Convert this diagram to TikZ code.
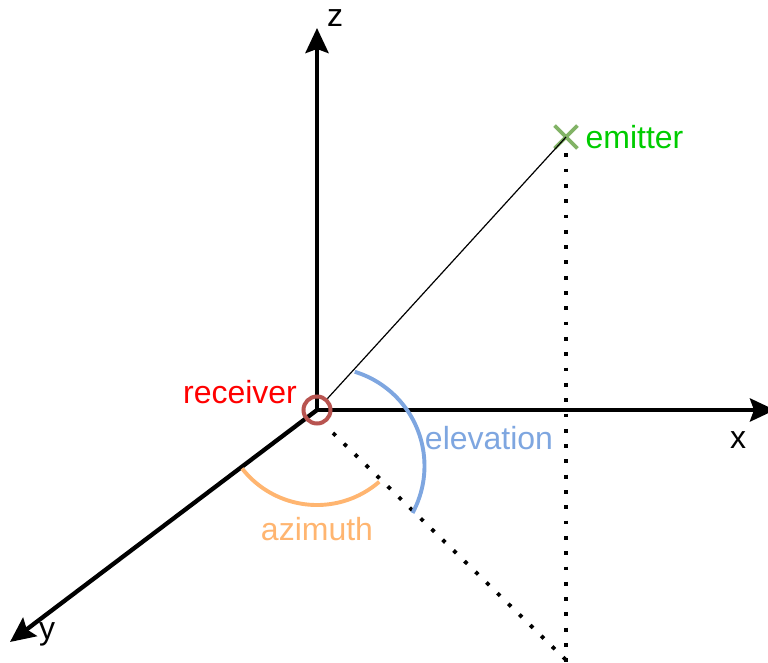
\documentclass[tikz,border=0pt]{standalone}
\usepackage{fontspec}
\setmainfont{Liberation Sans}
\usepackage{tikz}
\usetikzlibrary{arrows.meta,positioning,shapes.misc}

\definecolor{recvred}{HTML}{B85450}
\definecolor{emitgreen}{HTML}{82B366}
\definecolor{labelgreen}{HTML}{00CC00}
\definecolor{elevblue}{HTML}{7EA6E0}
\definecolor{azimorange}{HTML}{FFB570}

\begin{document}
\begin{tikzpicture}[
  x=1pt, y=1pt,
  axis/.style={line width=4.3pt, -{Stealth[length=25pt, width=23pt, inset=4pt]}},
  lbl/.style={font=\fontsize{32}{38}\selectfont, inner sep=0pt},
  dots/.style={line width=3.8pt, dash pattern=on 3.8pt off 11.5pt},
  anglearc/.style={line width=3.9pt}
]
  \useasboundingbox (0,0) rectangle (768,662);
  \coordinate (o) at (317,252);
  \coordinate (xend) at (775,252);
  \coordinate (yend) at (10,20);
  \coordinate (zend) at (317,634);
  \coordinate (foot) at (566,0);
  \coordinate (proj) at (566,2);
  \coordinate (gstart) at (333,229);
  \coordinate (elevstart) at (354.8,290.2);
  \coordinate (azimstart) at (242.1,193.5);

  \draw[axis] (o) -- (zend);
  \draw[axis] (o) -- (xend);
  \draw[axis] (o) -- (yend);

  \node[circle, draw=recvred, line width=4pt, minimum size=27pt, inner sep=0pt] (recv) at (o) {};
  \node[cross out, draw=emitgreen, line width=3.8pt, minimum size=19pt, inner sep=0pt] (emit) at (566,525) {};

  \draw[line width=1.2pt] (recv) -- (emit.center);
  \draw[dots, dash phase=10.3pt] (emit.south) -- (foot);
  \draw[dots] (gstart) -- (proj);

  \draw[anglearc, elevblue] (elevstart) arc[start angle=73, end angle=-28.5, radius=98.5];
  \draw[anglearc, azimorange] (azimstart) arc[start angle=218, end angle=311, radius=95];

  \node[lbl] (zlbl) at (335,644) {z};
  \node[lbl] (xlbl) at (738,222) {x};
  \node[lbl] (ylbl) at (47,28) {y};
  \node[lbl, text=red] (recvlbl) at (240,270) {receiver};
  \node[lbl, text=labelgreen, right=8pt of emit] (emitlbl) {emitter};
  \node[lbl, text=elevblue] (elevlbl) at (489,224) {elevation};
  \node[lbl, text=azimorange] (azimlbl) at (317,133) {azimuth};
\end{tikzpicture}
\end{document}
